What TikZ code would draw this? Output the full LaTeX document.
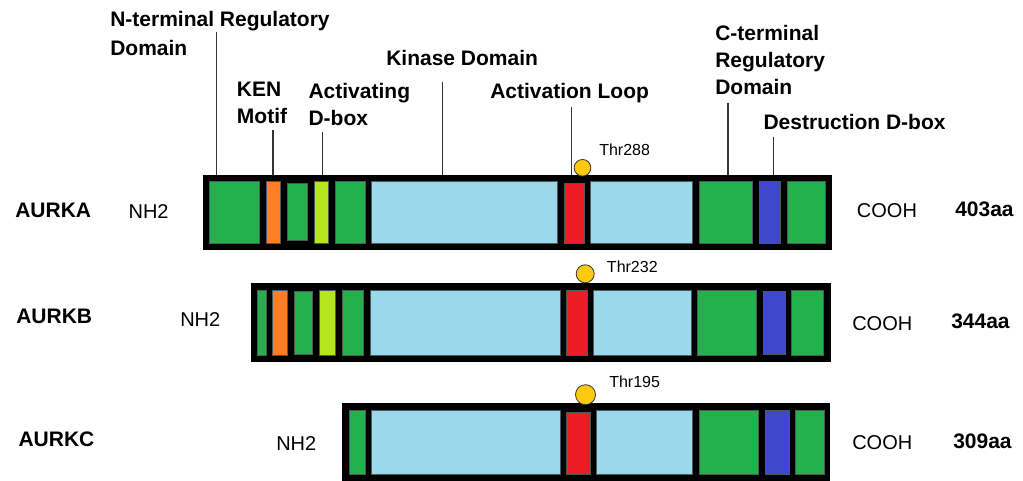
\documentclass[tikz,border=0pt]{standalone}
\usepackage{fontspec}
\setmainfont{Liberation Sans}
\definecolor{pgreen}{HTML}{22B14C}
\definecolor{porange}{HTML}{FF7F27}
\definecolor{pyg}{HTML}{B5E61D}
\definecolor{plb}{HTML}{99D9EA}
\definecolor{pred}{HTML}{ED1C24}
\definecolor{pblue}{HTML}{3F48CC}
\definecolor{pyel}{HTML}{FFC90E}
\definecolor{segline}{HTML}{4A5A60}
\newcommand\segm[5]{\filldraw[fill=#5,draw=segline,line width=0.5pt] (#1,#3) rectangle (#2,#4);}
\tikzset{
  lbl/.style={font=\fontsize{15.75}{20.25}\selectfont\bfseries, align=left, inner sep=0pt, anchor=north west},
  rowlbl/.style={font=\fontsize{15.75}{19}\selectfont\bfseries, inner sep=0pt, anchor=base west},
  term/.style={font=\fontsize{15}{18}\selectfont, inner sep=0pt, anchor=base west},
  thr/.style={font=\fontsize{12}{14}\selectfont, inner sep=0pt, anchor=base west},
  barbox/.style={fill=black, draw=none, inner sep=0pt, rectangle},
  phos/.style={circle, fill=pyel, draw=black!80, line width=0.6pt, inner sep=0pt},
  leader/.style={draw=black!80, line width=1pt}
}
\begin{document}
\begin{tikzpicture}[x=0.75pt,y=-0.75pt]
\useasboundingbox (0,0) rectangle (1023,481);
% ---------- AURKA ----------
\node[barbox, minimum width=471.75pt, minimum height=56.25pt] (barA) at (517.5,212.5) {};
\segm{209.3}{259.3}{181.7}{243.3}{pgreen}
\segm{266}{280.7}{181.7}{243.3}{porange}
\segm{287.3}{307.3}{183.3}{240}{pgreen}
\segm{314.3}{328.7}{181.7}{243.3}{pyg}
\segm{335.3}{365}{181.7}{243.3}{pgreen}
\segm{371}{557.7}{181.7}{243.3}{plb}
\segm{564}{584.3}{183.3}{243.3}{pred}
\segm{590.7}{692.7}{181.7}{243.3}{plb}
\segm{699.3}{752.7}{181.7}{243.3}{pgreen}
\segm{759.3}{780.7}{181.7}{243.3}{pblue}
\segm{787.3}{825}{181.7}{243.3}{pgreen}
\node[phos, minimum size=12.5pt] (pA) at (582.5,167.8) {};
\node[thr] (tA) at (599,156) {Thr288};
% ---------- AURKB ----------
\node[barbox, minimum width=434.75pt, minimum height=59.25pt] (barB) at (540.85,322.8) {};
\segm{257.7}{266}{290}{355}{pgreen}
\segm{272.7}{287.3}{290}{355}{porange}
\segm{294}{312.7}{291.7}{354}{pgreen}
\segm{319.3}{335.7}{290}{355}{pyg}
\segm{342}{363.7}{290}{355}{pgreen}
\segm{370}{560.3}{290}{355}{plb}
\segm{566.7}{587.3}{290}{355}{pred}
\segm{593.3}{691.7}{290}{355}{plb}
\segm{697.7}{756.7}{290}{355}{pgreen}
\segm{763.3}{785}{291.7}{354}{pblue}
\segm{791.7}{823.3}{290}{355}{pgreen}
\node[phos, minimum size=13.5pt] (pB) at (585.2,273.8) {};
\node[thr] (tB) at (606.7,272.4) {Thr232};
% ---------- AURKC ----------
\node[barbox, minimum width=365.75pt, minimum height=58.5pt] (barC) at (586.15,442.3) {};
\segm{349}{365}{410.7}{474.5}{pgreen}
\segm{371}{560.7}{410.7}{474.5}{plb}
\segm{566.7}{590}{412}{474.5}{pred}
\segm{596.5}{692.7}{410.7}{474.5}{plb}
\segm{699.3}{758.3}{410.7}{474.5}{pgreen}
\segm{765}{789.3}{410.7}{474.5}{pblue}
\segm{795.7}{824}{410.7}{474.5}{pgreen}
\node[phos, minimum size=15pt] (pC) at (585.5,394.7) {};
\node[thr] (tC) at (609,387.4) {Thr195};
% ---------- domain labels ----------
\node[lbl] (lN) at (110,11) {N-terminal Regulatory\\[1.4pt]Domain};
\node[lbl] (lK) at (236.7,82) {KEN\\Motif};
\node[lbl] (lD) at (308.3,83) {Activating\\D-box};
\node[lbl] (lKin) at (386,50) {Kinase Domain};
\node[lbl] (lAL) at (490,83) {Activation Loop};
\node[lbl] (lC) at (715,25) {C-terminal\\Regulatory\\Domain};
\node[lbl] (lDD) at (763.3,114) {Destruction D-box};
% ---------- leaders ----------
\coordinate (cN) at (216.7,31.7);
\coordinate (cK) at (273,130);
\coordinate (cD) at (322.5,131.7);
\coordinate (cKin) at (442.8,81.7);
\coordinate (cAL) at (571.7,106.7);
\coordinate (cC) at (728,102.7);
\coordinate (cDD) at (773.3,136.7);
\foreach \c in {cN,cK,cD,cKin,cAL,cC,cDD}{
  \draw[leader] (\c) -- (\c |- barA.north);
}
% ---------- row labels ----------
\node[rowlbl] (nA) at (15,217.7) {AURKA};
\node[rowlbl] (nB) at (16,323.3) {AURKB};
\node[rowlbl] (nC) at (18.3,446.7) {AURKC};
\node[term] (hA) at (128.3,218.3) {NH2};
\node[term] (hB) at (180,326) {NH2};
\node[term] (hC) at (276,450.7) {NH2};
\node[term] (oA) at (856.7,217.3) {COOH};
\node[term] (oB) at (852,330) {COOH};
\node[term] (oC) at (852,449) {COOH};
\node[rowlbl] (aA) at (955,216.7) {403aa};
\node[rowlbl] (aB) at (951,328) {344aa};
\node[rowlbl] (aC) at (953,448) {309aa};
\end{tikzpicture}
\end{document}
